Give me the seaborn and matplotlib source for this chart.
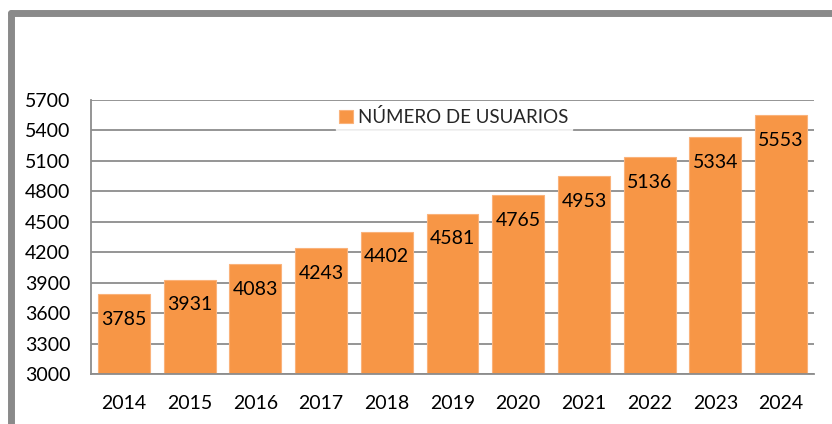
import pandas as pd
import matplotlib.pyplot as plt
import seaborn as sns
from matplotlib.lines import Line2D

years = ['2014', '2015', '2016', '2017', '2018', '2019', '2020', '2021', '2022', '2023', '2024']
users = [3785, 3931, 4083, 4243, 4402, 4581, 4765, 4953, 5136, 5334, 5553]
series_name = 'NÚMERO DE USUARIOS'

df = pd.DataFrame({'year': years, 'users': users})

sns.set_style('white')
plt.rcParams['font.family'] = ['Lato', 'DejaVu Sans']

fig = plt.figure(figsize=(8.32, 4.24), dpi=100)
ax = fig.add_axes([0.1094, 0.118, 0.869, 0.646])

sns.barplot(data=df, x='year', y='users', color='#F79646', saturation=1,
            width=0.79, edgecolor='#FAB27A', linewidth=0.8, ax=ax,
            label=series_name, zorder=2)

ax.set_ylim(3000, 5700)
ax.set_yticks(range(3000, 5701, 300))
ax.set_xlim(-0.5, len(years) - 0.5)
ax.grid(axis='y', color='#8c8c8c', linewidth=1.3, zorder=0)
ax.set_axisbelow(True)
for side in ['top', 'right']:
    ax.spines[side].set_visible(False)
for side in ['left', 'bottom']:
    ax.spines[side].set_color('#8c8c8c')
    ax.spines[side].set_linewidth(1.3)
ax.tick_params(axis='both', length=0, labelsize=14, colors='black')
ax.tick_params(axis='y', pad=15)
ax.tick_params(axis='x', pad=15)
ax.set_xlabel('')
ax.set_ylabel('')

for i, v in enumerate(users):
    ax.annotate(str(v), (i, v), xytext=(0, -12), textcoords='offset points',
                ha='center', va='top', fontsize=14, color='black')

leg = ax.legend(loc='center', bbox_to_anchor=(0.502, 0.938), frameon=True,
                fontsize=13.5, handlelength=0.7, handleheight=0.7,
                handletextpad=0.3, borderpad=0.2, fancybox=False)
leg.get_frame().set_facecolor('white')
leg.get_frame().set_edgecolor('white')

# gray frame around the chart (left and top edges visible)
frame = dict(color='#8a8a8a', linewidth=5, solid_capstyle='round', transform=fig.transFigure)
fig.add_artist(Line2D([10.5 / 832, 10.5 / 832], [0, 1 - 12.5 / 424], **frame))
fig.add_artist(Line2D([10.5 / 832, 1.01], [1 - 12.5 / 424, 1 - 12.5 / 424], **frame))

fig.savefig('out.png', dpi=100)
